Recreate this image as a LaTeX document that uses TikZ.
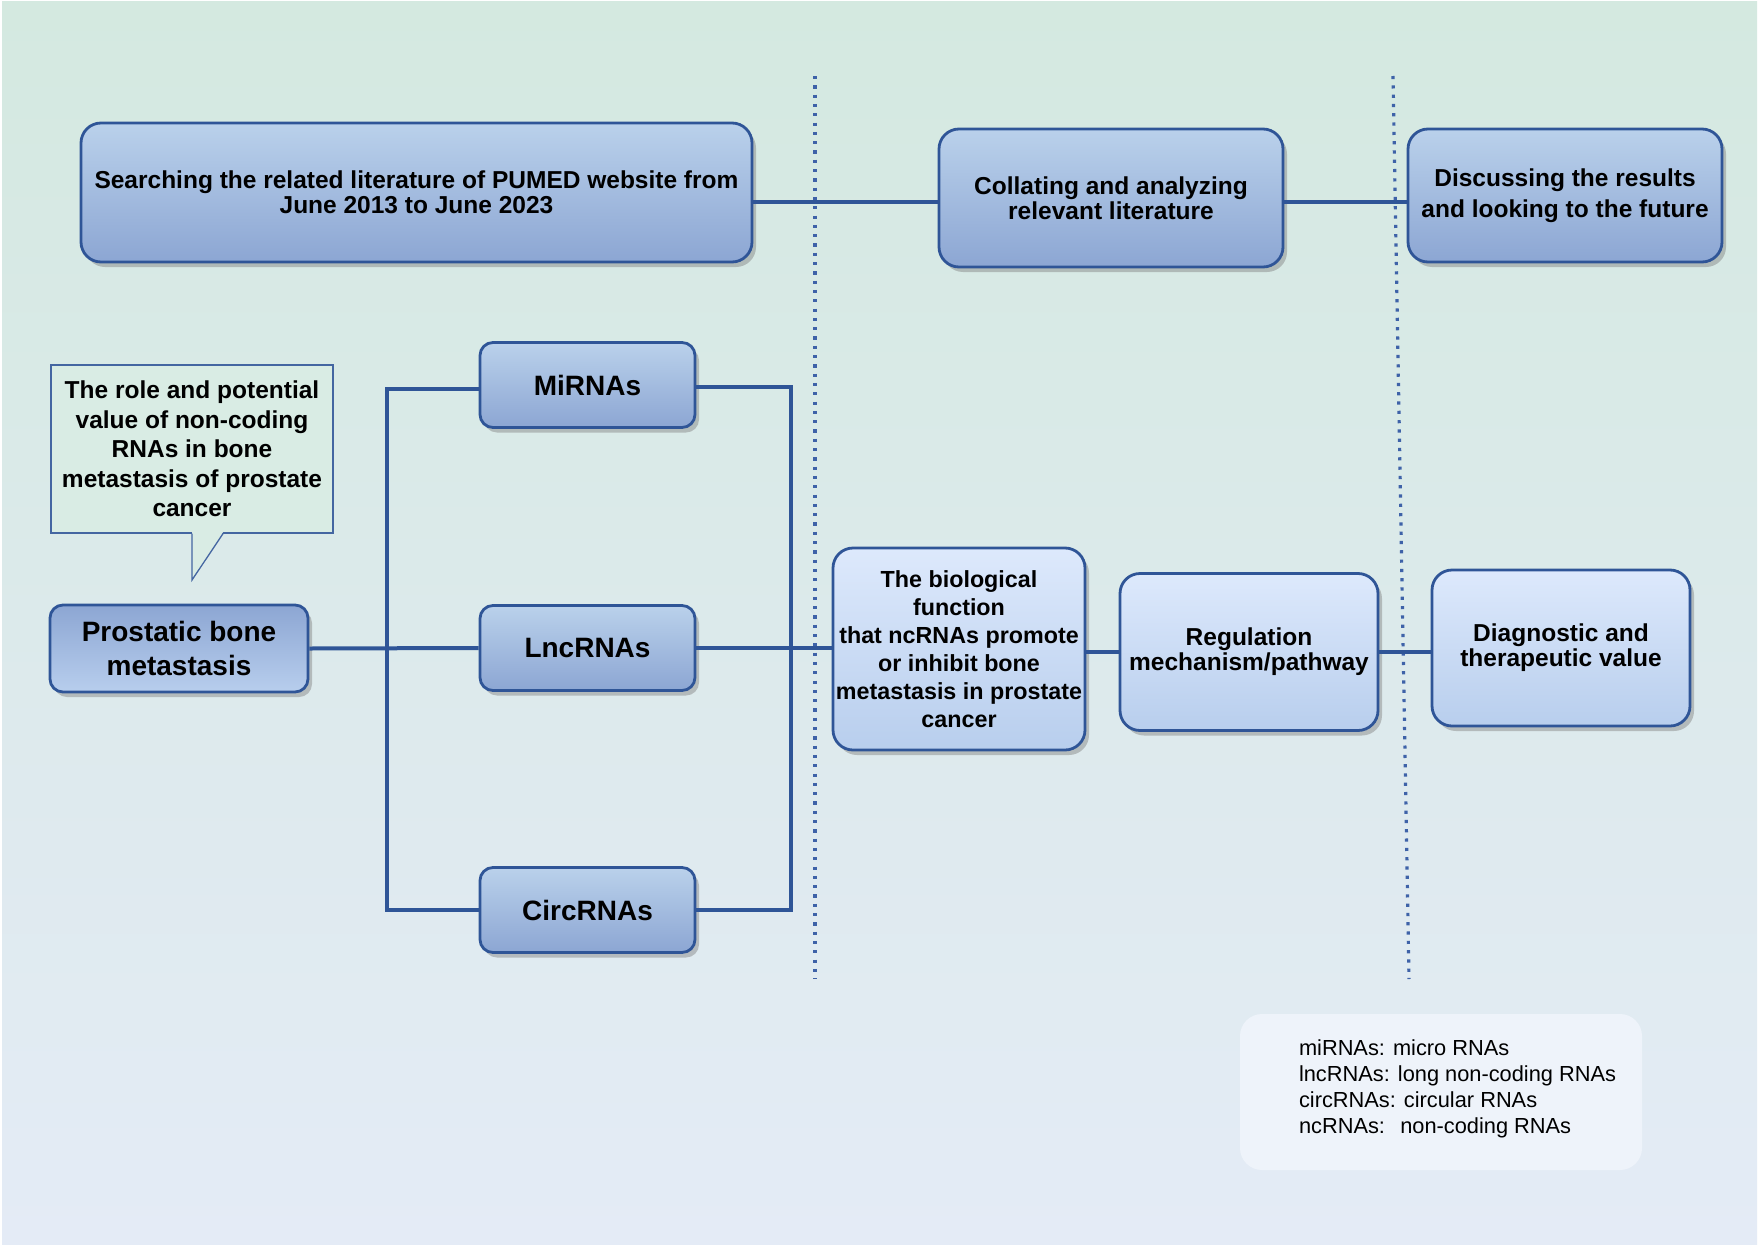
\documentclass[tikz,border=0pt]{standalone}
\usepackage{fontspec}
\setmainfont{Liberation Sans}
\usepackage{tikz}
\usetikzlibrary{shadows, positioning}
\usepackage{xcolor}
\definecolor{lineBlue}{RGB}{47, 85, 151}
\definecolor{dotBlue}{RGB}{62, 98, 168}
\definecolor{bgTop}{RGB}{212, 233, 224}
\definecolor{bgBottom}{RGB}{228, 235, 246}
\definecolor{darkTop}{RGB}{186, 209, 235}
\definecolor{darkBottom}{RGB}{140, 166, 211}
\definecolor{lightTop}{RGB}{221, 233, 252}
\definecolor{lightBottom}{RGB}{184, 206, 237}
\definecolor{calloutFill}{RGB}{217, 236, 228}
\definecolor{legendFill}{RGB}{238, 243, 250}

\begin{document}
\begin{tikzpicture}[x=1pt, y=-1pt,
    every node/.style={font=\bfseries\fontsize{24.5}{25}\selectfont, text=black},
    stage/.style={rectangle, rounded corners=20pt, draw=lineBlue, line width=2.8pt, top color=darkTop, bottom color=darkBottom, align=center, inner sep=0pt, drop shadow={shadow xshift=4pt, shadow yshift=-5pt, fill=black!50, opacity=0.45}},
    result/.style={stage, top color=lightTop, bottom color=lightBottom},
    rna/.style={stage, rounded corners=13pt, minimum width=215pt, minimum height=85pt, font=\bfseries\fontsize{28}{30}\selectfont},
    note/.style={rectangle, draw=lineBlue!90, line width=1.3pt, fill=calloutFill, align=center, inner sep=0pt, minimum width=282pt, minimum height=168pt, font=\bfseries\fontsize{24.5}{29.5}\selectfont},
    legend/.style={rectangle, rounded corners=22pt, fill=legendFill, inner sep=0pt, minimum width=402pt, minimum height=156pt},
    legendtext/.style={anchor=west, align=left, inner sep=0pt, font=\fontsize{21.8}{26}\selectfont},
    link/.style={draw=lineBlue, line width=4pt},
    divider/.style={draw=dotBlue, line width=3.2pt, dash pattern=on 3.2pt off 6.1pt},
]
\useasboundingbox (0,0) rectangle (1760,1247);
\fill[white] (0,0) rectangle (1760,1247);
\shade[top color=bgTop, bottom color=bgBottom] (2,2) rectangle (1757,1244);
\draw[divider] (815,76) -- (815,979);
\draw[divider] (1393,76) -- (1409,979);
\node[stage, minimum width=671pt, minimum height=139pt] (search) at (416.5,192.5) {Searching the related literature of PUMED website from\\June 2013 to June 2023};
\node[stage, minimum width=344pt, minimum height=138pt] (collate) at (1111,198) {Collating and analyzing\\relevant literature};
\node[stage, minimum width=314pt, minimum height=133pt, font=\bfseries\fontsize{24.5}{31}\selectfont] (discuss) at (1565,195.5) {Discussing the results\\and looking to the future};
\coordinate (topline) at ([yshift=-4pt]collate.west);
\draw[link] (search.east |- topline) -- (topline);
\draw[link] (collate.east |- topline) -- (discuss.west |- topline);
\node[note] (role) at (192,449) {The role and potential\\value of non-coding\\RNAs in bone\\metastasis of prostate\\cancer};
\coordinate (roletip) at (192,580);
\fill[calloutFill] ([yshift=1.5pt]role.south) -- (roletip) -- ([xshift=31pt,yshift=1.5pt]role.south) -- cycle;
\draw[lineBlue!90, line width=1.3pt] (role.south) -- (roletip) -- ([xshift=31pt]role.south);
\node[stage, rounded corners=13pt, top color=darkBottom, bottom color=lightBottom, minimum width=258pt, minimum height=87pt, font=\bfseries\fontsize{28}{33.5}\selectfont] (prost) at (179,648.5) {Prostatic bone\\metastasis};
\node[rna] (mirna) at (587.5,385) {MiRNAs};
\node[rna] (lnc) at (587.5,648) {LncRNAs};
\node[rna] (circ) at (587.5,910) {CircRNAs};
\coordinate (lbus) at (387,648);
\coordinate (rbus) at (791,648);
\draw[link] (prost.east) -- (lnc.west);
\draw[link] ([yshift=-4pt]mirna.west) -| (lbus) |- (circ.west);
\draw[link] ([yshift=-2pt]mirna.east) -| (rbus) |- (circ.east);
\node[result, minimum width=252pt, minimum height=202pt, font=\bfseries\fontsize{23.3}{28}\selectfont] (bio) at (959,649) {The biological\\function\\that ncRNAs promote\\or inhibit bone\\metastasis in prostate\\cancer};
\node[result, minimum width=258pt, minimum height=157pt] (reg) at (1249,652) {Regulation\\mechanism/pathway};
\node[result, minimum width=258pt, minimum height=156pt] (diag) at (1561,648) {Diagnostic and\\therapeutic value};
\draw[link] (lnc.east) -- (bio.west |- lnc.east);
\draw[link] (bio.east |- reg.west) -- (reg.west);
\draw[link] (reg.east) -- (diag.west |- reg.east);
\node[legend] (abbr) at (1441,1092) {};
\node[legendtext] (abbrtext) at ([xshift=59pt,yshift=3.5pt]abbr.west) {miRNAs: micro RNAs\\lncRNAs: long non-coding RNAs\\circRNAs: circular RNAs\\ncRNAs:\hspace{0.7em}non-coding RNAs};
\end{tikzpicture}
\end{document}
